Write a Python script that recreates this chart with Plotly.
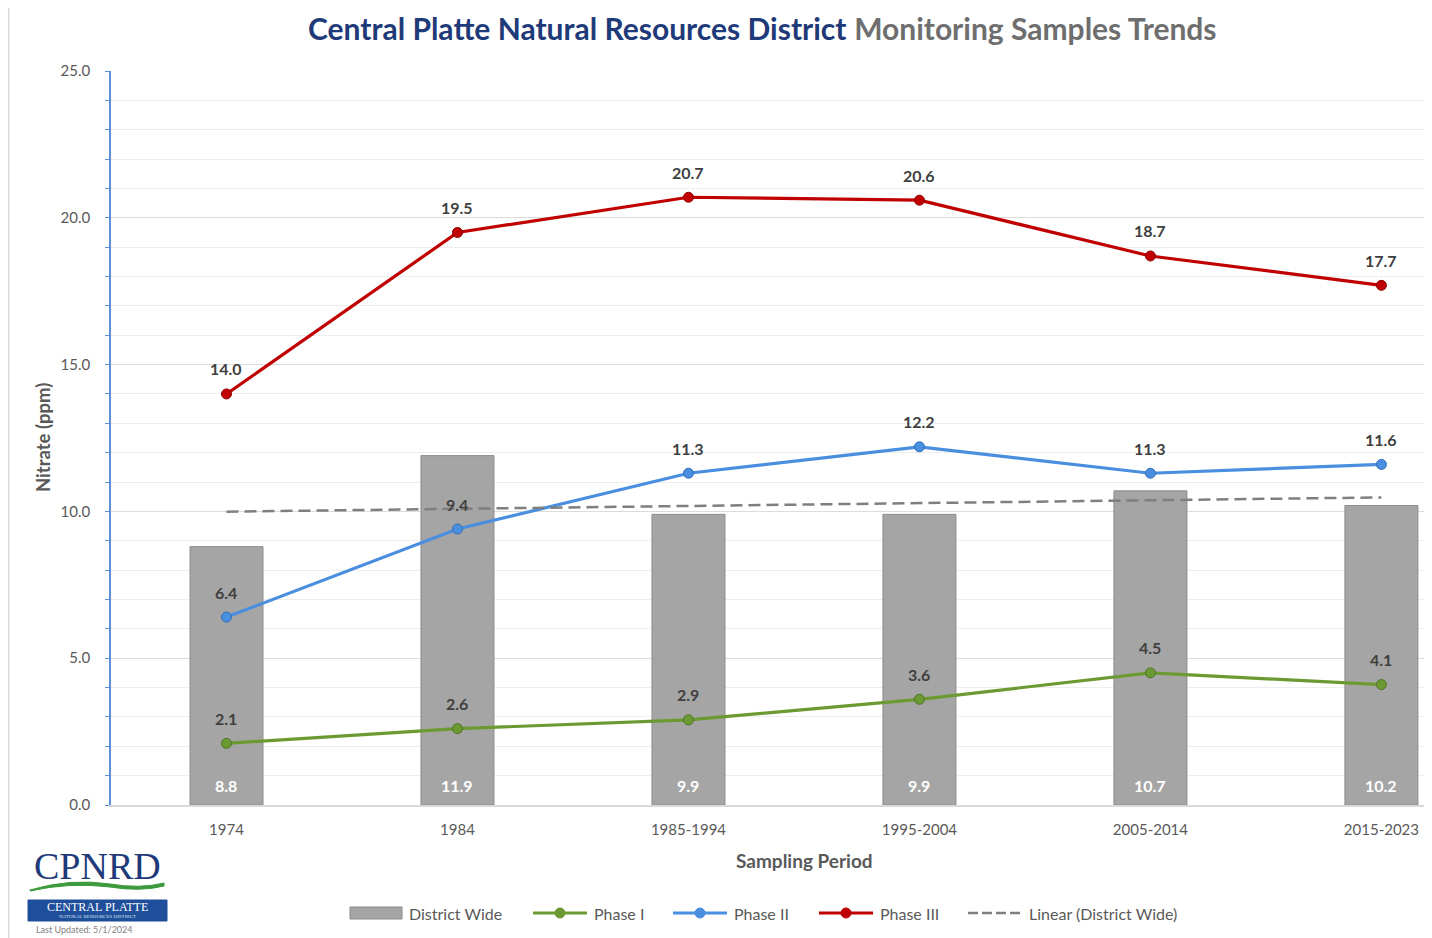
import numpy as np
import plotly.graph_objects as go

periods = ["1974", "1984", "1985-1994", "1995-2004", "2005-2014", "2015-2023"]
district_wide = [8.8, 11.9, 9.9, 9.9, 10.7, 10.2]
phase_1 = [2.1, 2.6, 2.9, 3.6, 4.5, 4.1]
phase_2 = [6.4, 9.4, 11.3, 12.2, 11.3, 11.6]
phase_3 = [14.0, 19.5, 20.7, 20.6, 18.7, 17.7]

# linear trendline of district-wide values
xi = np.arange(len(periods))
slope, intercept = np.polyfit(xi, district_wide, 1)
trend = list(slope * xi + intercept)

# page has an 8px body margin, so the figure is 8px smaller and all reference
# pixel positions map through px/py below
OFF = 8
W, H = 1432 - OFF, 938 - OFF
L, R, T, B = 111, 1432, 71, 805  # plot area in reference pixels


def px(x):
    return (x - L) / (R - L)


def py(y):
    return (B - y) / (B - T)


FONT = "Lato"
GREEN, BLUE, RED = "#6C9A32", "#4A8EE0", "#C00000"
LBL = dict(family=FONT, size=16, color="#404040", weight="bold")

fig = go.Figure()
fig.add_trace(go.Bar(
    x=periods, y=district_wide, name="District Wide",
    marker=dict(color="#A5A5A5", line=dict(color="#8C8C8C", width=1)),
    width=0.316,
))


def line_trace(vals, name, color, edge):
    return go.Scatter(
        x=periods, y=vals, name=name, mode="lines+markers",
        line=dict(color=color, width=3.2),
        marker=dict(size=10, color=color, line=dict(color=edge, width=1)),
    )


fig.add_trace(line_trace(phase_1, "Phase I", GREEN, "#4F7424"))
fig.add_trace(line_trace(phase_2, "Phase II", BLUE, "#2F6DB8"))
fig.add_trace(line_trace(phase_3, "Phase III", RED, "#8E0000"))
fig.add_trace(go.Scatter(
    x=periods, y=trend, name="Linear (District Wide)", mode="lines",
    line=dict(color="#7F7F7F", width=2.5, dash="12px,6px"),
))

fig.update_layout(
    width=W, height=H,
    margin=dict(l=L - OFF, r=0, t=T - OFF, b=H - (B - OFF)),
    paper_bgcolor="white", plot_bgcolor="white",
    font=dict(family=FONT, color="#595959"),
    showlegend=False,
    bargap=0.5,
)
fig.update_xaxes(
    type="category", range=[-0.5, 5.219], showline=True, linecolor="#D9D9D9", linewidth=1.5,
    ticks="", ticklabelstandoff=10, tickfont=dict(family=FONT, size=15, color="#595959"),
    showgrid=False,
)
fig.update_yaxes(
    range=[0, 25], dtick=5, tickformat=".1f", showline=True, linecolor="#5B8FD6", linewidth=1.5,
    ticks="outside", ticklen=4, tickcolor="#5B8FD6", ticklabelstandoff=12,
    tickfont=dict(family=FONT, size=15, color="#595959"),
    showgrid=True, gridcolor="#DCDCDC", gridwidth=1, zeroline=False,
    minor=dict(dtick=1, showgrid=True, gridcolor="#EEEEEE", ticks="outside", ticklen=4,
               tickcolor="#5B8FD6"),
)

ann = []
# data labels (category axis: position by category index)
for vals in (phase_1, phase_2, phase_3):
    for i, v in enumerate(vals):
        ann.append(dict(x=i, y=v, xref="x", yref="y", text=f"{v:.1f}", showarrow=False,
                        yshift=25, font=LBL, xanchor="center", yanchor="middle"))
for i, v in enumerate(district_wide):
    ann.append(dict(x=i, y=0, xref="x", yref="y", text=f"{v:.1f}", showarrow=False,
                    yshift=20, font=dict(family=FONT, size=16, color="white", weight="bold"),
                    xanchor="center", yanchor="middle"))

ann.append(dict(
    x=px(762), y=py(28), xref="paper", yref="paper", showarrow=False,
    text="<b><span style='color:#1F3A78'>Central Platte Natural Resources District</span></b>"
         " <span style='color:#6E6E6E'><b>Monitoring Samples Trends</b></span>",
    font=dict(family=FONT, size=30), xanchor="center", yanchor="middle"))
ann.append(dict(x=px(804), y=py(860), xref="paper", yref="paper", showarrow=False,
                text="<b>Sampling Period</b>", font=dict(family=FONT, size=19, color="#595959"),
                xanchor="center", yanchor="middle"))
ann.append(dict(x=px(43), y=py(438), xref="paper", yref="paper", showarrow=False,
                text="<b>Nitrate (ppm)</b>", textangle=-90,
                font=dict(family=FONT, size=18.5, color="#595959"),
                xanchor="center", yanchor="middle"))

# legend (drawn manually to mimic the wide swatches)
LEG_Y = 913
legend_items = [
    ("District Wide", "bar", "#A5A5A5", 350, 407),
    ("Phase I", "line", GREEN, 533, 592),
    ("Phase II", "line", BLUE, 673, 732),
    ("Phase III", "line", RED, 819, 878),
    ("Linear (District Wide)", "dash", "#7F7F7F", 968, 1027),
]
shapes = []
for name, kind, col, sx, tx in legend_items:
    ann.append(dict(x=px(tx), y=py(LEG_Y), xref="paper", yref="paper", showarrow=False,
                    text=name, font=dict(family=FONT, size=16, color="#595959"),
                    xanchor="left", yanchor="middle"))
    if kind == "bar":
        shapes.append(dict(type="rect", xref="paper", yref="paper", x0=px(sx), x1=px(sx + 52),
                           y0=py(LEG_Y + 6), y1=py(LEG_Y - 6), fillcolor=col,
                           line=dict(color="#8C8C8C", width=1)))
    elif kind == "line":
        shapes.append(dict(type="line", xref="paper", yref="paper", x0=px(sx), x1=px(sx + 54),
                           y0=py(LEG_Y), y1=py(LEG_Y), line=dict(color=col, width=3.2)))
        cx = sx + 27
        shapes.append(dict(type="circle", xref="paper", yref="paper", x0=px(cx - 5), x1=px(cx + 5),
                           y0=py(LEG_Y + 5), y1=py(LEG_Y - 5), fillcolor=col,
                           line=dict(color=col, width=1)))
    else:
        shapes.append(dict(type="line", xref="paper", yref="paper", x0=px(sx), x1=px(sx + 53),
                           y0=py(LEG_Y), y1=py(LEG_Y),
                           line=dict(color=col, width=2.5, dash="10px,4px")))

# logo
ann.append(dict(x=px(97), y=py(866), xref="paper", yref="paper", showarrow=False,
                text="CPNRD", font=dict(family="Liberation Serif", size=38, color="#1F3A78"),
                xanchor="center", yanchor="middle"))
ann.append(dict(x=px(97), y=py(907), xref="paper", yref="paper", showarrow=False,
                text="CENTRAL PLATTE", font=dict(family="Liberation Serif", size=12, color="white"),
                xanchor="center", yanchor="middle"))
ann.append(dict(x=px(97), y=py(916), xref="paper", yref="paper", showarrow=False,
                text="NATURAL RESOURCES DISTRICT", font=dict(family="Liberation Serif", size=5, color="#DDE6F5"),
                xanchor="center", yanchor="middle"))
ann.append(dict(x=px(34), y=py(930), xref="paper", yref="paper", showarrow=False,
                text="Last Updated: 5/1/2024", font=dict(family=FONT, size=9, color="#7F7F7F"),
                xanchor="left", yanchor="middle"))
fig.update_layout(annotations=ann)

shapes.append(dict(type="line", xref="paper", yref="paper", x0=px(8.7), x1=px(8.7), y0=py(OFF), y1=py(938),
                   line=dict(color="#D9D9D9", width=1.5)))
shapes.append(dict(type="rect", xref="paper", yref="paper", x0=px(28), x1=px(167), y0=py(900), y1=py(921),
                   fillcolor="#1F4E9A", line=dict(color="#1F4E9A", width=1)))
sw = (f"M {px(30)},{py(890)} Q {px(70)},{py(878)} {px(110)},{py(884)} "
      f"Q {px(140)},{py(889)} {px(164)},{py(883)} "
      f"L {px(164)},{py(886)} Q {px(140)},{py(892)} {px(110)},{py(887)} "
      f"Q {px(70)},{py(882)} {px(30)},{py(891)} Z")
shapes.append(dict(type="path", xref="paper", yref="paper", path=sw,
                   fillcolor="#3C9A3C", line=dict(color="#3C9A3C", width=1)))
fig.update_layout(shapes=shapes)

fig.write_html("out.html")
